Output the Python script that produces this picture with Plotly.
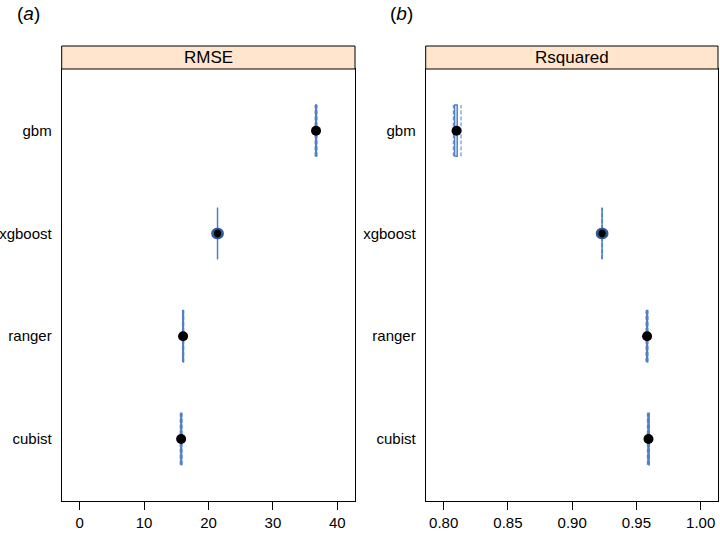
import plotly.graph_objects as go

# ---- data ----
models = ["cubist", "ranger", "xgboost", "gbm"]

rmse_min = [15.60, 15.95, 21.40, 36.55]
rmse_q1 = [15.70, 16.00, 21.40, 36.65]
rmse_med = [15.75, 16.05, 21.40, 36.70]
rmse_q3 = [15.80, 16.10, 21.40, 36.75]
rmse_max = [15.90, 16.15, 21.40, 36.85]
rmse_out_model = ["xgboost", "xgboost"]
rmse_out_val = [21.30, 21.50]

rsq_min = [0.9585, 0.9575, 0.9233, 0.8075]
rsq_q1 = [0.9590, 0.9580, 0.9233, 0.8085]
rsq_med = [0.9594, 0.9583, 0.9233, 0.8100]
rsq_q3 = [0.9598, 0.9586, 0.9233, 0.8105]
rsq_max = [0.9602, 0.9590, 0.9233, 0.8135]
rsq_out_model = ["xgboost", "xgboost"]
rsq_out_val = [0.9228, 0.9238]

rmse_ticks = [0, 10, 20, 30, 40]
rsq_ticks = [0.80, 0.85, 0.90, 0.95, 1.00]
rsq_ticktext = ["0.80", "0.85", "0.90", "0.95", "1.00"]

BLUE = "#4F81C4"
FONT = "Liberation Sans, Arial, sans-serif"
H = 0.25  # half box height in category units

fig = go.Figure()


def add_panel(xa, ya, mn, q1, med, q3, mx, out_m, out_v):
    for i, m in enumerate(models):
        y = i + 1
        # whiskers + caps (dashed)
        fig.add_trace(go.Scatter(
            x=[q1[i], mn[i], None, q3[i], mx[i], None,
               mn[i], mn[i], None, mx[i], mx[i]],
            y=[y, y, None, y, y, None,
               y - H, y + H, None, y - H, y + H],
            mode="lines", line=dict(color=BLUE, width=1, dash="4px,2px"),
            xaxis=xa, yaxis=ya, showlegend=False, hoverinfo="skip"))
        # box
        fig.add_trace(go.Scatter(
            x=[q1[i], q3[i], q3[i], q1[i], q1[i]],
            y=[y - H, y - H, y + H, y + H, y - H],
            mode="lines", line=dict(color=BLUE, width=1.5),
            xaxis=xa, yaxis=ya, showlegend=False, hoverinfo="skip"))
    # medians
    fig.add_trace(go.Scatter(
        x=med, y=list(range(1, len(models) + 1)),
        mode="markers", marker=dict(color="black", size=10),
        xaxis=xa, yaxis=ya, showlegend=False))
    # outliers
    fig.add_trace(go.Scatter(
        x=out_v, y=[models.index(m) + 1 for m in out_m],
        mode="markers",
        marker=dict(symbol="circle-open", size=10, color="#2F5A96", line=dict(width=1.5)),
        xaxis=xa, yaxis=ya, showlegend=False, hoverinfo="skip"))


add_panel("x", "y", rmse_min, rmse_q1, rmse_med, rmse_q3, rmse_max,
          rmse_out_model, rmse_out_val)
add_panel("x2", "y2", rsq_min, rsq_q1, rsq_med, rsq_q3, rsq_max,
          rsq_out_model, rsq_out_val)

W, Hh = 720, 533
left_dom = [61.7 / W, 355 / W]
right_dom = [425.7 / W, 718 / W]
y_dom = [(Hh - 500.7) / Hh, (Hh - 69) / Hh]
strip_top = (Hh - 46) / Hh

xcommon = dict(showline=True, linecolor="black", linewidth=1, mirror=True,
               ticks="outside", ticklen=8, tickcolor="black", showgrid=False,
               zeroline=False, tickfont=dict(size=15, color="black", family=FONT))
ycommon = dict(showline=True, linecolor="black", linewidth=1, mirror=True,
               ticks="outside", ticklen=6, tickcolor="rgba(0,0,0,0)",
               showgrid=False, zeroline=False, range=[0.4, 4.6],
               tickmode="array", tickvals=list(range(1, len(models) + 1)),
               ticktext=models, tickfont=dict(size=15, color="black", family=FONT))

fig.update_layout(
    width=W, height=Hh, margin=dict(l=0, r=0, t=0, b=0),
    paper_bgcolor="white", plot_bgcolor="white",
    font=dict(family=FONT, color="black"),
    xaxis=dict(domain=left_dom, range=[-2.8, 42.75], tickvals=rmse_ticks,
               anchor="y", **xcommon),
    yaxis=dict(domain=y_dom, anchor="x", **ycommon),
    xaxis2=dict(domain=right_dom, range=[0.786, 1.0135], tickvals=rsq_ticks,
                ticktext=rsq_ticktext, anchor="y2", **xcommon),
    yaxis2=dict(domain=y_dom, anchor="x2", **ycommon),
)

# strips
for dom, title in [(left_dom, "RMSE"), (right_dom, "Rsquared")]:
    fig.add_shape(type="rect", xref="paper", yref="paper",
                  x0=dom[0], x1=dom[1], y0=y_dom[1], y1=strip_top,
                  fillcolor="#FFE5CC", line=dict(color="black", width=1))
    fig.add_annotation(xref="paper", yref="paper", x=(dom[0] + dom[1]) / 2,
                       y=(y_dom[1] + strip_top) / 2, text=title, showarrow=False,
                       font=dict(size=17, color="black", family=FONT),
                       xanchor="center", yanchor="middle")

# panel labels
for xp, lab in [(15 / W, "(<i>a</i>)"), (388 / W, "(<i>b</i>)")]:
    fig.add_annotation(xref="paper", yref="paper", x=xp, y=(Hh - 14) / Hh,
                       text=lab, showarrow=False, xanchor="left", yanchor="middle",
                       font=dict(size=19, color="black", family=FONT))

fig.write_html("out.html", config={"displayModeBar": False},
               post_script="document.body.style.margin='0';")
